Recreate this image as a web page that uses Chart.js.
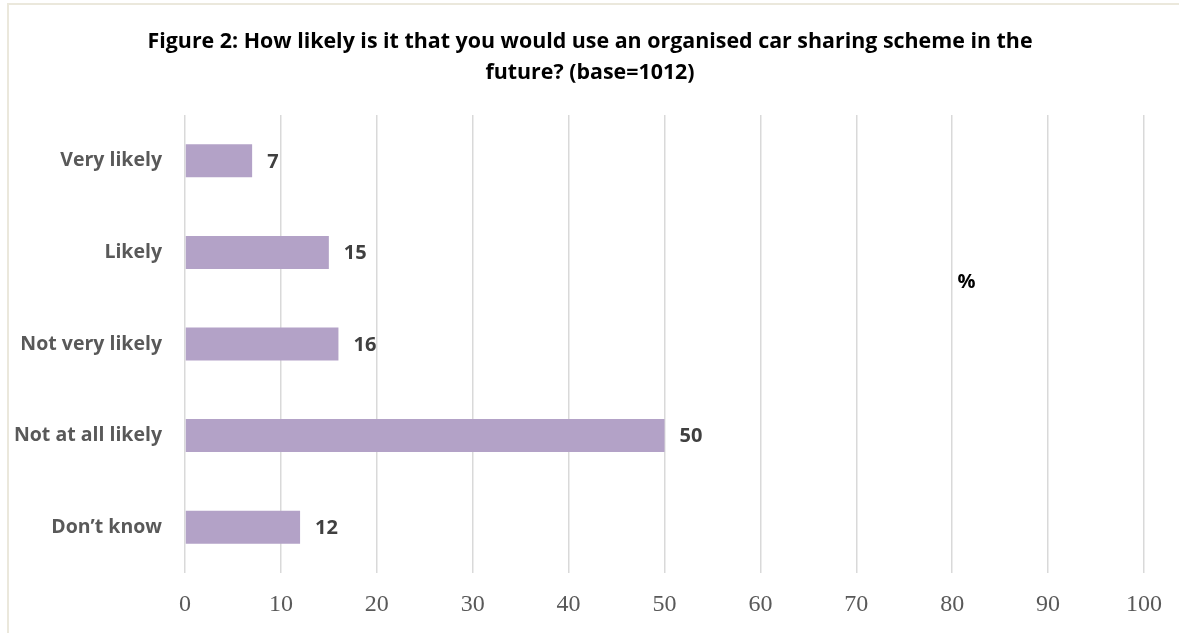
<!DOCTYPE html>
<html>
<head>
<meta charset="utf-8">
<script src="https://cdn.jsdelivr.net/npm/chart.js@4"></script>
<style>
  html, body { margin: 0; padding: 0; background: #fff; }
  #wrap { width: 1179px; height: 633px; position: relative; }
</style>
</head>
<body>
<div id="wrap"><canvas id="chartLikely" width="1179" height="633"></canvas></div>
<script>
// dados
const categories = ["Very likely", "Likely", "Not very likely", "Not at all likely", "Don\u2019t know"];
const percentValues = [7, 15, 16, 50, 12];
const xTicks = [0, 10, 20, 30, 40, 50, 60, 70, 80, 90, 100];
const titleLines = [
  "Figure 2: How likely is it that you would use an organised car sharing scheme in the",
  "future? (base=1012)"
];
const axisUnit = "%";

// fundo branco + moldura bege + título centrado na moldura
const frame = {
  id: "frame",
  beforeDraw(chart) {
    const c = chart.ctx;
    c.save();
    c.fillStyle = "#fff";
    c.fillRect(0, 0, chart.width, chart.height);
    c.strokeStyle = "#ebe8dc";
    c.lineWidth = 2;
    c.strokeRect(8, 4, chart.width + 20, chart.height + 20);
    c.fillStyle = "#000";
    c.font = "bold 21.4px 'Open Sans'";
    c.textAlign = "center";
    c.textBaseline = "middle";
    titleLines.forEach((line, i) => c.fillText(line, 590, 42 + i * 31));
    c.restore();
  }
};

// rótulos de valor no fim das barras + "%"
const barLabels = {
  id: "barLabels",
  afterDatasetsDraw(chart) {
    const c = chart.ctx;
    const meta = chart.getDatasetMeta(0);
    c.save();
    c.font = "bold 20px 'Open Sans'";
    c.fillStyle = "#404040";
    c.textBaseline = "middle";
    c.textAlign = "left";
    meta.data.forEach((bar, i) => {
      c.fillText(String(percentValues[i]), bar.x + 15, bar.y + 1);
    });
    const area = chart.chartArea;
    c.font = "bold 20px 'Open Sans'";
    c.fillStyle = "#000";
    c.textAlign = "center";
    c.fillText(axisUnit, area.left + (area.right - area.left) * 0.815, area.top + (area.bottom - area.top) * 0.366);
    c.restore();
  }
};

const ctx = document.getElementById("chartLikely");

new Chart(ctx, {
  type: "bar",
  data: {
    labels: categories,
    datasets: [
      {
        data: percentValues,
        backgroundColor: "#b3a2c7",
        borderWidth: 0,
        barPercentage: 0.36,
        categoryPercentage: 1
      }
    ]
  },
  options: {
    indexAxis: "y",
    responsive: false,
    animation: false,
    layout: {
      padding: { top: 115, right: 33, bottom: 0, left: 0 }
    },
    scales: {
      x: {
        min: 0,
        max: 100,
        afterBuildTicks: (scale) => {
          scale.ticks = xTicks.map((v) => ({ value: v }));
        },
        afterFit: (scale) => {
          scale.height = 60;
        },
        grid: {
          color: "#d9d9d9",
          lineWidth: 1.5,
          drawTicks: false
        },
        border: { display: false },
        ticks: {
          padding: 17,
          color: "#595959",
          font: { family: "Liberation Serif", size: 24 }
        }
      },
      y: {
        afterFit: (scale) => {
          scale.width = 185;
        },
        grid: { display: false, drawTicks: false },
        border: { display: false },
        ticks: {
          padding: 23,
          color: "#595959",
          font: { family: "Open Sans", weight: "bold", size: 19.5 }
        }
      }
    },
    plugins: {
      legend: { display: false },
      tooltip: { enabled: false },
      title: { display: false }
    }
  },
  plugins: [frame, barLabels]
});
</script>
</body>
</html>
